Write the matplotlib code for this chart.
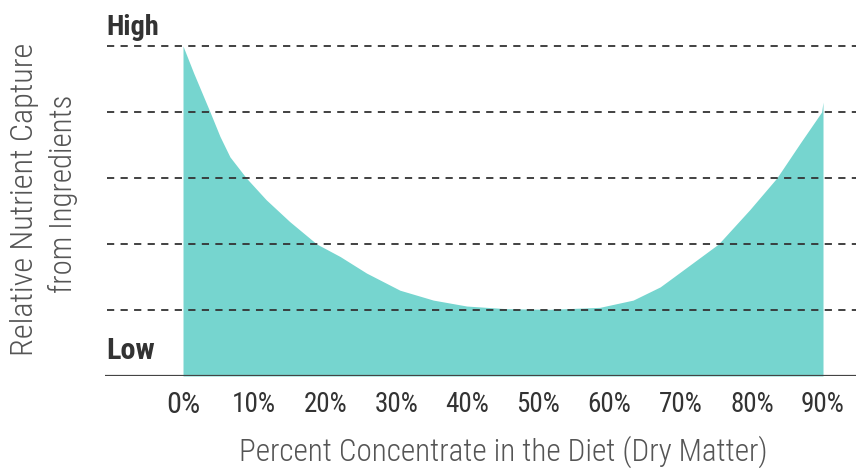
import matplotlib
matplotlib.use("Agg")
import matplotlib.pyplot as plt
from matplotlib import font_manager

# ── Data ──────────────────────────────────────────────────────────────────────
concentrate_pct = [0, 1.5, 3.8, 5.2, 6.6, 8.9, 11.7, 15.0, 18.8, 22.1, 25.8,
                   30.5, 35.2, 39.9, 45.5, 51.6, 58.6, 63.3, 67.1, 69.0, 75.3,
                   79.7, 83.5, 86.8, 89.8, 90]
nutrient_capture = [5.0, 4.59, 4.0, 3.63, 3.32, 3.0, 2.67, 2.34, 2.0, 1.81, 1.56,
                    1.30, 1.15, 1.06, 1.02, 1.01, 1.04, 1.15, 1.35, 1.50, 2.0,
                    2.52, 3.0, 3.53, 4.0, 4.15]
tick_values = [0, 10, 20, 30, 40, 50, 60, 70, 80, 90]
tick_labels = [f"{v}%" for v in tick_values]
grid_levels = [1, 2, 3, 4, 5]

FILL = "#76d5cf"
DARK = "#333333"
GREY = "#555555"

names = {f.name for f in font_manager.fontManager.ttflist}
FONT = next((n for n in ["Roboto Condensed", "Liberation Sans Narrow",
                         "Open Sans Condensed", "Roboto", "Liberation Sans"]
             if n in names), "DejaVu Sans")

fig = plt.figure(figsize=(8.56, 4.68), dpi=100)
ax = fig.add_axes([105 / 856, (468 - 376) / 468, 751 / 856, 346 / 468])

ax.fill_between(concentrate_pct, nutrient_capture, 0, color=FILL, linewidth=0)

for lvl in grid_levels:
    ax.axhline(lvl, xmin=2 / 751, xmax=1, color=DARK, linestyle=(0, (4, 3.5)),
               linewidth=1.3, zorder=3)
ax.axhline(0, color="#444444", linewidth=1.6, zorder=3)

ax.set_xlim(-10.97, 94.64)
ax.set_ylim(0, 346 / 66)
ax.set_xticks(tick_values)
ax.set_yticks([])
ax.tick_params(axis="x", length=0, labelbottom=False)
for s in ax.spines.values():
    s.set_visible(False)

renderer = fig.canvas.get_renderer()


def fit_text(t, target, use_height=False):
    # scale font size so the drawn text spans the same pixels as the reference
    ext = t.get_window_extent(renderer)
    size = ext.height if use_height else ext.width
    t.set_fontsize(t.get_fontsize() * target / size)
    return t


# tick labels, placed in axis coords so they sit below the baseline
for v, lab in zip(tick_values, tick_labels):
    t = ax.text(v, 0, lab, fontsize=16, color=DARK, family=FONT,
                ha="center", va="center", transform=ax.get_xaxis_transform())
    t.set_y(-29 / 346)
    fit_text(t, 44 if v >= 10 else 34)

hi = ax.text(-10.75, 5.07, "High", fontsize=17, fontweight="bold", color=DARK,
             family=FONT, ha="left", va="bottom")
fit_text(hi, 53)
lo = ax.text(-10.75, 0.17, "Low", fontsize=17, fontweight="bold", color=DARK,
             family=FONT, ha="left", va="bottom")
fit_text(lo, 49)

xl = fig.text(503 / 856, 1 - 452 / 468, "Percent Concentrate in the Diet (Dry Matter)",
              fontsize=21, color=GREY, family=FONT, fontweight="light",
              ha="center", va="center")
fit_text(xl, 526)

y1 = fig.text(25 / 856, 1 - 199 / 468, "Relative Nutrient Capture",
              fontsize=21, color=GREY, family=FONT, fontweight="light",
              ha="center", va="center", rotation=90)
fit_text(y1, 312, use_height=True)
y2 = fig.text(63 / 856, 1 - 194 / 468, "from Ingredients",
              fontsize=21, color=GREY, family=FONT, fontweight="light",
              ha="center", va="center", rotation=90)
fit_text(y2, 198, use_height=True)

fig.savefig("out.png", dpi=100)
